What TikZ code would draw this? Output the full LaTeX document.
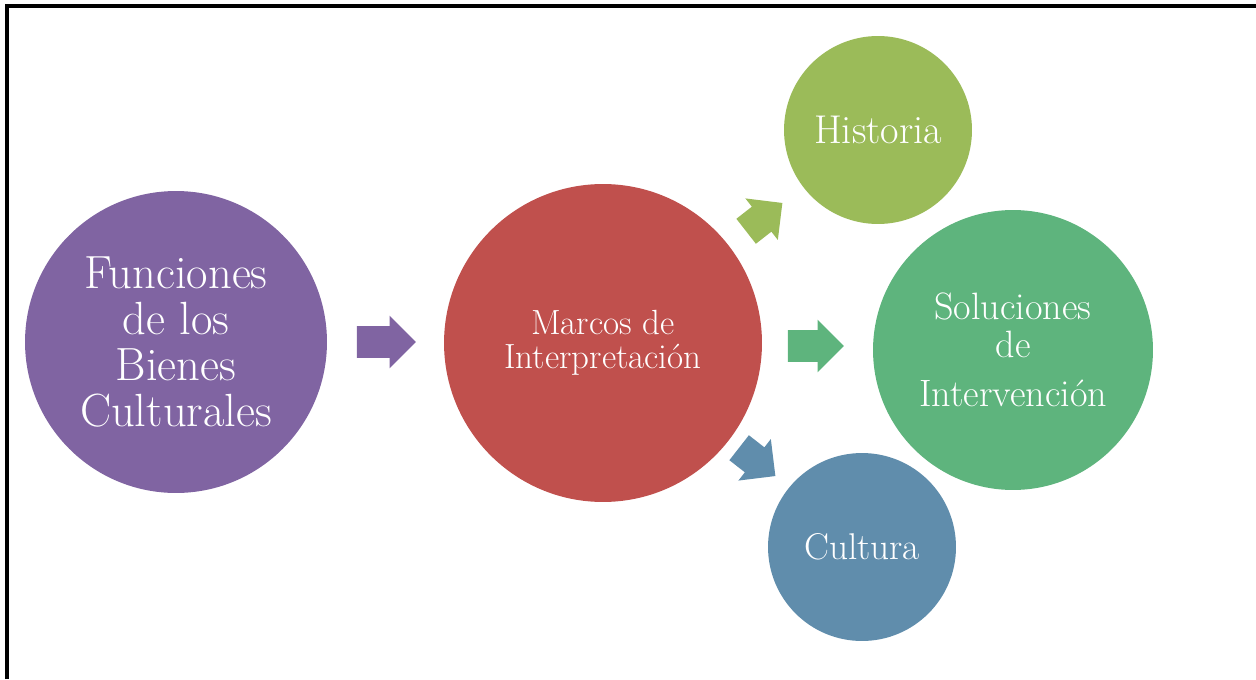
\documentclass[tikz,border=0pt]{standalone}
\usetikzlibrary{shapes.arrows}
\definecolor{cfpurple}{RGB}{128,100,162}
\definecolor{cfred}{RGB}{192,80,77}
\definecolor{cflime}{RGB}{155,187,89}
\definecolor{cfgreen}{RGB}{94,180,125}
\definecolor{cfblue}{RGB}{96,141,172}
\tikzstyle{bubble} = [circle, inner sep=0pt, text=white, align=center]
\tikzstyle{blockarrow} = [single arrow, inner xsep=0pt, inner ysep=0.31cm, minimum width=1.04cm, single arrow head extend=0.21cm]

\begin{document}
\begin{tikzpicture}[x=0.02cm, y=-0.02cm]
\useasboundingbox (0,0) rectangle (1256,679);
% frame
\draw[line width=0.065cm] (7,679) -- (7,6) -- (1256,6);

% circles
\node (funciones) [bubble, fill=cfpurple, minimum size=6.04cm, font=\fontsize{26.5}{26.2}\selectfont] at (176,342) {Funciones\\de los\\Bienes\\Culturales};
\node (marcos) [bubble, fill=cfred, minimum size=6.36cm, font=\fontsize{19.9}{19.5}\selectfont] at (603,343) {Marcos de\\Interpretación};
\node (historia) [bubble, fill=cflime, minimum size=3.76cm, font=\fontsize{22.9}{24}\selectfont] at (878,130) {Historia};
\node (soluciones) [bubble, fill=cfgreen, minimum size=5.6cm, font=\fontsize{21.7}{21.6}\selectfont] at (1013,350) {Soluciones\\de\\[6pt]Intervención};
\node (cultura) [bubble, fill=cfblue, minimum size=3.76cm, font=\fontsize{21.2}{23}\selectfont] at (862,547) {Cultura};

% arrows
\node (toMarcos) [blockarrow, fill=cfpurple, minimum height=1.18cm] at (378.5,342) {};
\node (toSoluciones) [blockarrow, fill=cfgreen, minimum height=1.12cm] at (808,346) {};
\node (toHistoria) [blockarrow, fill=cflime, minimum height=0.92cm, minimum width=1cm, rotate=38] at (758,222) {};
\node (toCultura) [blockarrow, fill=cfblue, minimum height=0.92cm, minimum width=1cm, rotate=-38] at (751,457) {};
\end{tikzpicture}
\end{document}
